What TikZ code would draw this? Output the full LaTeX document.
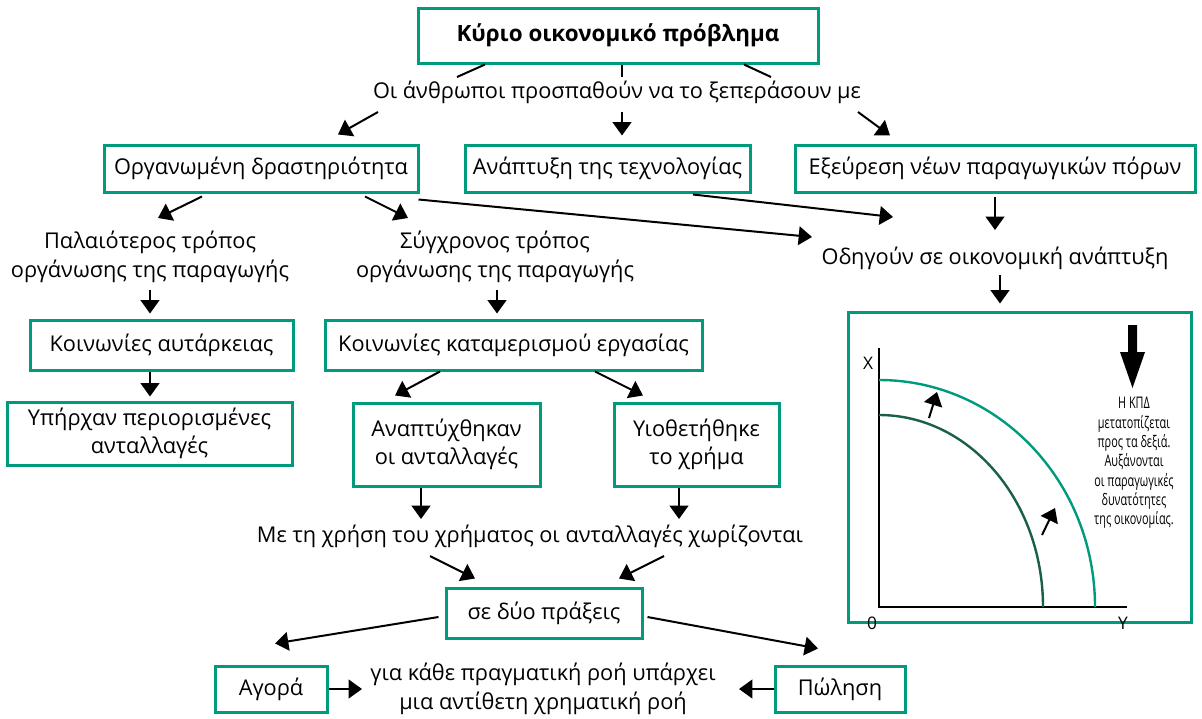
\documentclass[tikz,border=0pt]{standalone}
\usepackage{fontspec}
\setmainfont{Open Sans}
\newfontfamily\narrowfont[FakeStretch=0.68]{Open Sans}
\usetikzlibrary{arrows.meta, positioning, calc}
\definecolor{boxgreen}{RGB}{0,155,125}
\definecolor{curvedark}{RGB}{25,95,75}
\newcommand\mainsize{\fontsize{16.3}{21.5}\selectfont}
\tikzset{
  box/.style={rectangle, draw=boxgreen, line width=2.25pt,
    align=center, inner sep=0pt, font=\mainsize},
  txt/.style={align=center, inner sep=0pt, font=\mainsize},
  arrow/.style={-{Triangle[length=10pt,width=14pt]}, line width=1.5pt},
  line/.style={line width=1.5pt},
  axislabel/.style={inner sep=0pt, font=\fontsize{13}{15}\selectfont}
}
\begin{document}
\begin{tikzpicture}[x=0.75pt, y=-0.75pt]
  \path[use as bounding box, fill=white] (0,0) rectangle (1202,718);

  % Main problem
  \node[box, minimum width=300pt, minimum height=41.25pt, font=\fontsize{16.8}{21}\selectfont\bfseries] (top) at (618,35.5) {Κύριο οικονομικό πρόβλημα};
  \node[txt] (lead) at (617,92) {Οι άνθρωποι προσπαθούν να το ξεπεράσουν με};

  % Three ways
  \node[box, minimum width=235.5pt, minimum height=35.25pt] (org) at (261,168.5) {Οργανωμένη δραστηριότητα};
  \node[box, minimum width=213.75pt, minimum height=35.25pt] (tech) at (607.5,168.5) {Ανάπτυξη της τεχνολογίας};
  \node[box, minimum width=300pt, minimum height=35.25pt] (expl) at (995,168.5) {Εξεύρεση νέων παραγωγικών πόρων};

  % Ways of organising
  \node[txt] (old) at (150,257) {Παλαιότερος τρόπος\\οργάνωσης της παραγωγής};
  \node[txt] (modern) at (495,257) {Σύγχρονος τρόπος\\οργάνωσης της παραγωγής};
  \node[txt] (leads) at (995,258) {Οδηγούν σε οικονομική ανάπτυξη};

  % Societies
  \node[box, minimum width=197.25pt, minimum height=37.5pt] (autark) at (161.5,345) {Κοινωνίες αυτάρκειας};
  \node[box, minimum width=213.75pt, minimum height=47.25pt] (limited) at (149.5,433.5) {Υπήρχαν περιορισμένες\\ανταλλαγές};
  \node[box, minimum width=282.75pt, minimum height=37.5pt] (division) at (513.5,345) {Κοινωνίες καταμερισμού εργασίας};
  \node[box, minimum width=140.25pt, minimum height=62.25pt] (devel) at (446.5,444.5) {Αναπτύχθηκαν\\οι ανταλλαγές};
  \node[box, minimum width=123.75pt, minimum height=62.25pt] (money) at (696.5,444.5) {Υιοθετήθηκε\\το χρήμα};

  % Money splits exchange
  \node[txt] (sep) at (530,536) {Με τη χρήση του χρήματος οι ανταλλαγές χωρίζονται};
  \node[box, minimum width=147pt, minimum height=37.5pt] (two) at (544,613) {σε δύο πράξεις};
  \node[box, minimum width=84pt, minimum height=34.5pt] (market) at (271,689) {Αγορά};
  \node[txt] (flow) at (543,689) {για κάθε πραγματική ροή υπάρχει\\μια αντίθετη χρηματική ροή};
  \node[box, minimum width=97.5pt, minimum height=34.5pt] (sale) at (840,689) {Πώληση};

  % Graph frame
  \node[box, minimum width=257.25pt, minimum height=232.5pt] (graph) at (1019.5,467) {};

  % Connections
  \draw[line] ($(top.south)+(-133,0)$) -- ($(lead)+(-160,-15)$);
  \draw[line] ($(top.south)+(4,0)$) -- ($(lead)+(5,-15)$);
  \draw[line] ($(top.south)+(126,0)$) -- ($(lead)+(154,-15)$);

  \draw[arrow] ($(lead)+(-239,20)$) -- ($(org.north)+(77,-9)$);
  \draw[arrow] ($(lead)+(5,20)$) -- ($(tech.north)+(14.5,-8)$);
  \draw[arrow] ($(lead)+(241,20)$) -- ($(expl.north)+(-105,-8)$);

  \draw[arrow] ($(org.south)+(-59,3)$) -- ($(old)+(8,-39)$);
  \draw[arrow] ($(org.south)+(104,3)$) -- ($(modern)+(-87,-39)$);
  \draw[arrow] ($(org.south east)+(-1,6)$) -- ($(leads)+(-183,-21)$);
  \draw[arrow] ($(tech.south)+(85.5,1)$) -- ($(leads)+(-102,-41)$);
  \draw[arrow] ($(expl.south)+(0,3)$) -- ($(leads)+(0,-28)$);
  \draw[arrow] ($(leads)+(5,17)$) -- ($(graph.north)+(-19.5,-7)$);

  \draw[arrow] ($(old)+(0,33)$) -- ($(autark.north)+(-11.5,-5)$);
  \draw[arrow] ($(autark.south)+(-11.5,0)$) -- ($(limited.north)+(0.5,-4)$);
  \draw[arrow] ($(modern)+(2,33)$) -- ($(division.north)+(-16.5,-5)$);
  \draw[arrow] ($(division.south)+(-73.5,0)$) -- ($(devel.north)+(-51.5,-6)$);
  \draw[arrow] ($(division.south)+(81.5,0)$) -- ($(money.north)+(-53.5,-6)$);

  \draw[arrow] ($(devel.south)+(-25.5,0)$) -- ($(sep)+(-109,-17)$);
  \draw[arrow] ($(money.south)+(-17.5,0)$) -- ($(sep)+(149,-17)$);
  \draw[arrow] ($(sep)+(-100,20)$) -- ($(two.north)+(-69,-8)$);
  \draw[arrow] ($(sep)+(134,20)$) -- ($(two.north)+(75,-8)$);
  \draw[arrow] ($(two.west)+(-6,4)$) -- ($(market.north)+(4,-21)$);
  \draw[arrow] ($(two.east)+(4,4)$) -- ($(sale.north)+(-22,-16)$);
  \draw[arrow] (market.east) -- ($(flow)+(-181,0)$);
  \draw[arrow] (sale.west) -- ($(flow)+(196,0)$);

  % Production possibility curves
  \draw[line width=2pt] (879,348) -- (879,607) -- (1127,607);
  \draw[line width=1.8pt, color=curvedark] (879,415) arc[start angle=90, end angle=0, x radius=123pt, y radius=144pt];
  \draw[line width=1.8pt, color=boxgreen] (879,380) arc[start angle=90, end angle=0, x radius=162pt, y radius=170.25pt];
  \draw[arrow] (929,418) -- (937,392);
  \draw[arrow] (1042,535) -- (1055,508);
  \fill (1128,325) -- (1137,325) -- (1137,352) -- (1145,352) -- (1132.5,388) -- (1120,352) -- (1128,352) -- cycle;
  \node[axislabel] (xlab) at (868,363) {Χ};
  \node[axislabel] (origin) at (872,623) {0};
  \node[axislabel] (ylab) at (1123,623) {Υ};
  \node[align=center, inner sep=0pt, font=\narrowfont\fontsize{12}{14.5}\selectfont] (note) at (1134,463) {Η ΚΠΔ\\μετατοπίζεται\\προς τα δεξιά.\\Αυξάνονται\\οι παραγωγικές\\δυνατότητες\\της οικονομίας.};
\end{tikzpicture}
\end{document}
